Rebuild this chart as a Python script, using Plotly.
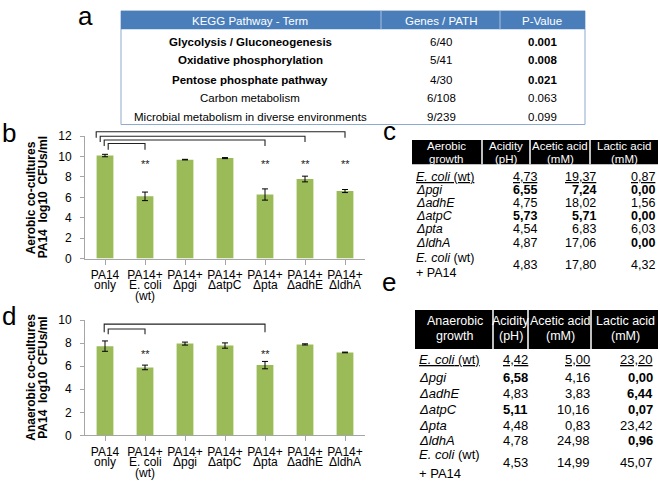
import plotly.graph_objects as go

W, H = 660, 487
def px(x): return x / W
def py(y): return 1 - y / H

FONT = "Liberation Sans, Arial, sans-serif"

# ---------------- data ----------------
categories = ["PA14<br>only", "PA14+<br>E. coli<br>(wt)", "PA14+<br>Δpgi", "PA14+<br>ΔatpC",
              "PA14+<br>Δpta", "PA14+<br>ΔadhE", "PA14+<br>ΔldhA"]
aerobic_vals = [10.1, 6.1, 9.7, 9.85, 6.28, 7.8, 6.62]
aerobic_err = [0.12, 0.42, 0.03, 0.05, 0.55, 0.28, 0.15]
aerobic_sig = [1, 4, 5, 6]
anaerobic_vals = [7.75, 5.9, 7.97, 7.8, 6.1, 7.9, 7.2]
anaerobic_err = [0.45, 0.2, 0.13, 0.23, 0.32, 0.05, 0.03]
anaerobic_sig = [1, 4]

kegg_terms = ["Glycolysis / Gluconeogenesis", "Oxidative phosphorylation", "Pentose phosphate pathway",
              "Carbon metabolism", "Microbial metabolism in diverse environments"]
kegg_genes = ["6/40", "5/41", "4/30", "6/108", "9/239"]
kegg_p = [0.001, 0.008, 0.021, 0.063, 0.099]

strains = ["<u><i>E. coli</i> (wt)</u>", "<i>Δpgi</i>", "<i>ΔadhE</i>", "<i>ΔatpC</i>",
           "<i>Δpta</i>", "<i>ΔldhA</i>", "<i>E. coli</i> (wt)|+ PA14"]
aer_ph = [4.73, 6.55, 4.75, 5.73, 4.54, 4.87, 4.83]
aer_acetic = [19.37, 7.24, 18.02, 5.71, 6.83, 17.06, 17.80]
aer_lactic = [0.87, 0.00, 1.56, 0.00, 6.03, 0.00, 4.32]
aer_bold = [[0, 0, 0], [1, 1, 1], [0, 0, 0], [1, 1, 1], [0, 0, 0], [0, 0, 1], [0, 0, 0]]
ana_ph = [4.42, 6.58, 4.83, 5.11, 4.48, 4.78, 4.53]
ana_acetic = [5.00, 4.16, 3.83, 10.16, 0.83, 24.98, 14.99]
ana_lactic = [23.20, 0.00, 6.44, 0.07, 23.42, 0.96, 45.07]
ana_bold = [[0, 0, 0], [1, 0, 1], [0, 0, 1], [1, 0, 1], [0, 0, 0], [0, 0, 1], [0, 0, 0]]

GREEN = "#9BBB59"
fig = go.Figure()
shapes, annots = [], []

def note(x, y, text, size, color="black", xanchor="center", angle=0, xref="paper", yref="paper"):
    annots.append(dict(x=x, y=y, xref=xref, yref=yref, text=text, showarrow=False, xanchor=xanchor,
                       yanchor="middle", textangle=angle, font=dict(family=FONT, size=size, color=color)))

def add_bar_panel(vals, errs, sig, xa, ya, y0px, ytoppx, ymax, bracket_px, letter, title1):
    n = len(categories)
    fig.add_trace(go.Bar(x=list(range(n)), y=vals, xaxis=xa, yaxis=ya,
                         marker=dict(color=GREEN, line=dict(width=0)), width=0.42,
                         error_y=dict(type="data", array=errs, color="black", thickness=1, width=3),
                         showlegend=False, hoverinfo="skip"))
    xk = "xaxis" + xa[1:]
    yk = "yaxis" + ya[1:]
    first_lines = [c.split("<br>")[0] for c in categories]
    fig.layout[xk] = dict(domain=[px(85), px(365)], range=[-0.5, 6.5], anchor=ya,
                          tickmode="array", tickvals=list(range(n)), ticktext=first_lines,
                          ticks="outside", ticklen=5, tickcolor="#A6A6A6", tickson="boundaries",
                          showline=True, linecolor="#A6A6A6", linewidth=1, showgrid=False,
                          tickfont=dict(family=FONT, size=12, color="black"), fixedrange=True)
    fig.layout[yk] = dict(domain=[py(y0px), py(ytoppx)], range=[0, ymax], dtick=2, anchor=xa,
                          ticks="outside", ticklen=4, tickcolor="#A6A6A6", showline=True,
                          linecolor="#A6A6A6", showgrid=False, zeroline=False, ticklabelstandoff=6,
                          tickfont=dict(family=FONT, size=12, color="black"), fixedrange=True)
    for i, c in enumerate(categories):
        for k, line in enumerate(c.split("<br>")[1:]):
            note(i, py(y0px + 27 + 12 * k), line, 12, xref=xa)
    sig_y = vals[0] * 0.915
    for i in sig:
        note(i, sig_y, "**", 11, color="#222", xref=xa, yref=ya)
    for rank, (i, (yh, yb)) in enumerate(zip(sig, bracket_px)):
        left = 0.08 - 0.1 * rank
        path = f"M {left} {py(yb)} L {left} {py(yh)} L {i} {py(yh)} L {i} {py(yb)}"
        shapes.append(dict(type="path", xref=xa, yref="paper", path=path,
                           line=dict(color="#222", width=1.1)))
    note(px(9), py(letter[1]), letter[0], 26)
    yc = (y0px + ytoppx) / 2
    for xx, t in [(31, title1), (43, "PA14\u00a0 log10\u00a0 CFUs/ml")]:
        note(px(xx), py(yc), f"<b>{t}</b>", 12, angle=-90)

add_bar_panel(aerobic_vals, aerobic_err, aerobic_sig, "x", "y", 259, 133, 12,
              [(140.5, 147), (137, 143), (133, 139), (128.5, 134.5)], ("b", 130), "Aerobic co-cultures")
add_bar_panel(anaerobic_vals, anaerobic_err, anaerobic_sig, "x2", "y2", 441, 322.5, 10,
              [(331.5, 337), (326.5, 335)], ("d", 318), "Anaerobic co-cultures")

# ---------------- table a ----------------
ta_x0, ta_x1, ta_y0, ta_hdr, ta_y1 = 121, 585, 4, 23, 121
ta_cols = [381, 500]
ta_cx = [250, 441, 542]
ta_rows = [36, 55, 75, 94, 113]
shapes.append(dict(type="rect", xref="paper", yref="paper", x0=px(ta_x0), x1=px(ta_x1), y0=py(ta_y1), y1=py(ta_y0),
                   line=dict(color="#8EA9CC", width=1), fillcolor="white", layer="below"))
shapes.append(dict(type="rect", xref="paper", yref="paper", x0=px(ta_x0), x1=px(ta_x1), y0=py(ta_hdr), y1=py(ta_y0),
                   line=dict(width=0), fillcolor="#4A7EBB", layer="below"))
for cx in ta_cols:
    shapes.append(dict(type="line", xref="paper", yref="paper", x0=px(cx), x1=px(cx), y0=py(ta_hdr), y1=py(ta_y0),
                       line=dict(color="#A9C0DE", width=1)))
for cx, t in zip(ta_cx, ["KEGG Pathway - Term", "Genes / PATH", "P-Value"]):
    note(px(cx), py((ta_y0 + ta_hdr) / 2 + 0.5), t, 11.5, color="white")
for r, (term, g, p) in enumerate(zip(kegg_terms, kegg_genes, kegg_p)):
    bold = p < 0.05
    for cx, t, b in [(ta_cx[0], term, bold), (ta_cx[1], g, False), (ta_cx[2], f"{p:.3f}", bold)]:
        note(px(cx), py(ta_rows[r]), f"<b>{t}</b>" if b else t, 11.5)
note(px(85), py(9), "a", 26)

# ---------------- tables c / e ----------------
def fmt(v): return f"{v:.2f}".replace(".", ",")

def add_acid_table(name, hx0, hx1, hy0, hy1, seps, hdr_cx, hdr_lines, rows_y, last_y, val_right,
                   ph, ac, la, bolds, letter, fs, hfs):
    shapes.append(dict(type="rect", xref="paper", yref="paper", x0=px(hx0), x1=px(hx1), y0=py(hy1), y1=py(hy0),
                       line=dict(width=0), fillcolor="black", layer="below"))
    for sx in seps:
        shapes.append(dict(type="line", xref="paper", yref="paper", x0=px(sx), x1=px(sx), y0=py(hy1), y1=py(hy0),
                           line=dict(color="white", width=1.5)))
    heads = [(name, "growth"), ("Acidity", "(pH)"), ("Acetic acid", "(mM)"), ("Lactic acid", "(mM)")]
    for cx, (l1, l2) in zip(hdr_cx, heads):
        for ly, t in zip(hdr_lines, (l1, l2)):
            note(px(cx), py(ly), t, hfs, color="white")
    for r, s in enumerate(strains):
        if "|" in s:
            a, b = s.split("|")
            for ly, t in zip(last_y[:2], (a, b)):
                note(px(hx0 + 2), py(ly), t, fs, xanchor="left")
            vy = last_y[2]
        else:
            note(px(hx0 + 2), py(rows_y[r]), s, fs, xanchor="left")
            vy = rows_y[r]
        for c, (vals, xr) in enumerate(zip((ph, ac, la), val_right)):
            t = fmt(vals[r])
            if bolds[r][c]:
                t = f"<b>{t}</b>"
            if r == 0:
                t = f"<u>{t}</u>"
            note(px(xr), py(vy), t, fs, xanchor="right")
    note(px(389), py(letter[1]), letter[0], 26)

add_acid_table("Aerobic", 412, 658, 137, 162, [482, 530, 590], [446, 506, 560, 624], [143, 156],
               [175, 188, 202, 215, 229, 243], [258, 274, 266], [539, 598, 657],
               aer_ph, aer_acetic, aer_lactic, aer_bold, ("c", 128), 12.5, 11.5)
add_acid_table("Anaerobic", 415, 658, 312, 352, [493, 528, 591], [455, 511, 560, 625], [323, 339],
               [363, 381, 398, 414, 431, 446], [461, 480, 469], [530, 592, 655],
               ana_ph, ana_acetic, ana_lactic, ana_bold, ("e", 283), 13, 12.5)

fig.update_layout(width=W, height=H, margin=dict(l=0, r=0, t=0, b=0), paper_bgcolor="white",
                  plot_bgcolor="white", shapes=shapes, annotations=annots, bargap=0.58,
                  font=dict(family=FONT, color="black"))
fig.write_html("out.html", config={"displayModeBar": False},
               post_script="document.body.style.margin='0';")
